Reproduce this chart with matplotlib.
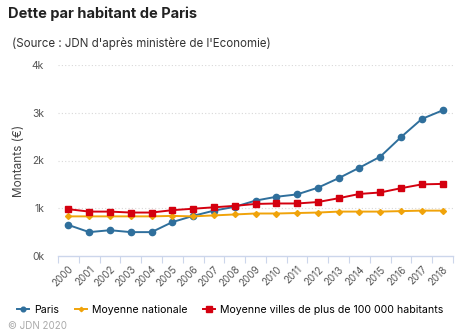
import matplotlib.pyplot as plt
import numpy as np

years = [str(y) for y in range(2000, 2019)]
paris = [650, 500, 540, 500, 500, 710, 840, 950, 1030, 1160, 1240, 1290, 1430, 1630, 1850, 2080, 2490, 2870, 3050]
nationale = [830, 830, 830, 830, 830, 840, 830, 850, 870, 890, 890, 900, 910, 930, 930, 930, 940, 950, 950]
grandes_villes = [980, 930, 930, 910, 910, 960, 990, 1020, 1050, 1090, 1100, 1100, 1130, 1210, 1300, 1330, 1420, 1500, 1510]

plt.rcParams['font.family'] = ['Inter', 'DejaVu Sans']

fig = plt.figure(figsize=(4.61, 3.34), dpi=100)
ax = fig.add_axes([58 / 461, 1 - 256 / 334, (453 - 58) / 461, (256 - 65) / 334])

x = np.arange(len(years))
ax.plot(x, paris, color='#2f6f9c', lw=1.4, marker='o', ms=4.5, label='Paris')
ax.plot(x, nationale, color='#f0a30a', lw=1.4, marker='D', ms=3, label='Moyenne nationale')
ax.plot(x, grandes_villes, color='#d4000f', lw=1.4, marker='s', ms=5, label='Moyenne villes de plus de 100 000 habitants')

ax.set_xlim(-0.5, len(years) - 0.5)
ax.set_ylim(0, 4000)
ax.set_yticks([0, 1000, 2000, 3000, 4000])
ax.set_yticklabels(['0k', '1k', '2k', '3k', '4k'], fontsize=7.5, color='#555555')
ax.set_xticks(x)
ax.set_xticklabels(years, rotation=45, ha='right', rotation_mode='anchor', fontsize=7, color='#555555')
ax.set_xticks(np.arange(-0.5, len(years), 1), minor=True)
ax.tick_params(axis='x', which='major', length=0, pad=6)
ax.tick_params(axis='x', which='minor', length=5, color='#ccd6eb', width=0.8)
ax.tick_params(axis='y', length=0, pad=10)

for s in ['top', 'right', 'left']:
    ax.spines[s].set_visible(False)
ax.spines['bottom'].set_color('#ccd6eb')
ax.spines['bottom'].set_linewidth(1)
for v in [1000, 2000, 3000, 4000]:
    ax.axhline(v, color='#d8d8d8', lw=0.8, ls=(0, (1, 2)), zorder=0)

ax.set_ylabel('Montants (€)', fontsize=8.5, color='#444444', labelpad=5)

fig.text(8 / 461, 1 - 14 / 334, 'Dette par habitant de Paris', fontsize=10.5, fontweight='bold', color='#222222', va='center')
fig.text(12 / 461, 1 - 44 / 334, '(Source : JDN d\'après ministère de l\'Economie)', fontsize=8.3, color='#333333', va='center')
fig.text(8 / 461, 1 - 326 / 334, '© JDN 2020', fontsize=7, color='#aaaaaa', va='center')

fig.legend(loc='center', bbox_to_anchor=(0.5, 1 - 310 / 334), ncol=3, frameon=False,
           fontsize=7.6, handlelength=1.1, columnspacing=1.5, handletextpad=0.5,
           markerscale=0.75, borderaxespad=0)

fig.savefig('out.png', dpi=100)
